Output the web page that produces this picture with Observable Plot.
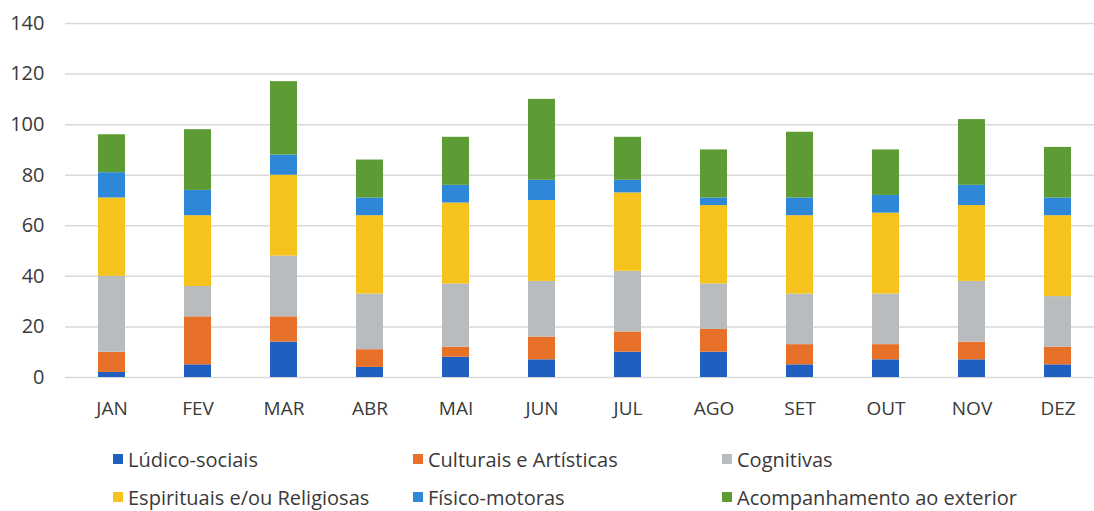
<!DOCTYPE html>
<html>
<head>
<meta charset="utf-8">
<script src="https://cdn.jsdelivr.net/npm/d3@7"></script>
<script src="https://cdn.jsdelivr.net/npm/@observablehq/plot@0.6"></script>
<style>
  html, body { margin: 0; padding: 0; background: #fff; }
  body { width: 1094px; height: 511px; overflow: hidden; position: relative; font-family: "Open Sans", sans-serif; }
  #chart { position: absolute; left: 0; top: 0; }
  .legend { position: absolute; left: 0; top: 0; width: 1094px; height: 511px; pointer-events: none; }
  .item { position: absolute; display: flex; align-items: center; font-size: 20px; color: #3a3a3a; white-space: nowrap; }
  .sw { width: 10px; height: 10px; margin-right: 5px; }
</style>
</head>
<body>
<div id="chart"></div>
<div class="legend" id="legend"></div>
<script>
const months = ["JAN","FEV","MAR","ABR","MAI","JUN","JUL","AGO","SET","OUT","NOV","DEZ"];
const series = ["Lúdico-sociais","Culturais e Artísticas","Cognitivas","Espirituais e/ou Religiosas","Físico-motoras","Acompanhamento ao exterior"];
const colors = ["#1f5fbf","#e8712a","#b9bcbf","#f6c21c","#2f87d9","#5d9c35"];
const ludico      = [2, 5, 14, 4, 8, 7, 10, 10, 5, 7, 7, 5];
const culturais   = [8, 19, 10, 7, 4, 9, 8, 9, 8, 6, 7, 7];
const cognitivas  = [30, 12, 24, 22, 25, 22, 24, 18, 20, 20, 24, 20];
const espirituais = [31, 28, 32, 31, 32, 32, 31, 31, 31, 32, 30, 32];
const fisico      = [10, 10, 8, 7, 7, 8, 5, 3, 7, 7, 8, 7];
const acomp       = [15, 24, 29, 15, 19, 32, 17, 19, 26, 18, 26, 20];
const yTicks = [0, 20, 40, 60, 80, 100, 120, 140];

const valueArrays = [ludico, culturais, cognitivas, espirituais, fisico, acomp];
const data = [];
series.forEach((s, si) => {
  months.forEach((m, mi) => data.push({month: m, series: s, value: valueArrays[si][mi]}));
});

const W = 1094, H = 425;
const chart = Plot.plot({
  width: W,
  height: H,
  marginTop: 23,
  marginBottom: 48,
  marginLeft: 65,
  marginRight: 0,
  style: {fontFamily: "'Open Sans', sans-serif", fontSize: "20px", color: "#3a3a3a", background: "transparent"},
  x: {domain: months, range: [65, 1104], paddingInner: 0.69, paddingOuter: 0.345, label: null},
  y: {domain: [0, 140], label: null},
  color: {domain: series, range: colors},
  marks: [
    Plot.gridY(yTicks, {stroke: "#d9d9d9", strokeOpacity: 1, strokeWidth: 1.5}),
    Plot.axisY(yTicks, {tickSize: 0, tickPadding: 21, label: null, fontSize: 20}),
    Plot.axisX({tickSize: 0, tickPadding: 24, label: null, fontSize: 19}),
    Plot.barY(data, {x: "month", y: "value", fill: "series"})
  ]
});
document.getElementById("chart").appendChild(chart);

// legend
const legendPos = [[113, 459], [413, 459], [722, 459], [113, 497], [413, 497], [722, 497]];
const legend = document.getElementById("legend");
series.forEach((s, i) => {
  const it = document.createElement("div");
  it.className = "item";
  it.style.left = legendPos[i][0] + "px";
  it.style.top = (legendPos[i][1] - 14) + "px";
  it.style.height = "28px";
  const sw = document.createElement("span");
  sw.className = "sw";
  sw.style.background = colors[i];
  const t = document.createElement("span");
  t.textContent = s;
  it.appendChild(sw);
  it.appendChild(t);
  legend.appendChild(it);
});
</script>
</body>
</html>
